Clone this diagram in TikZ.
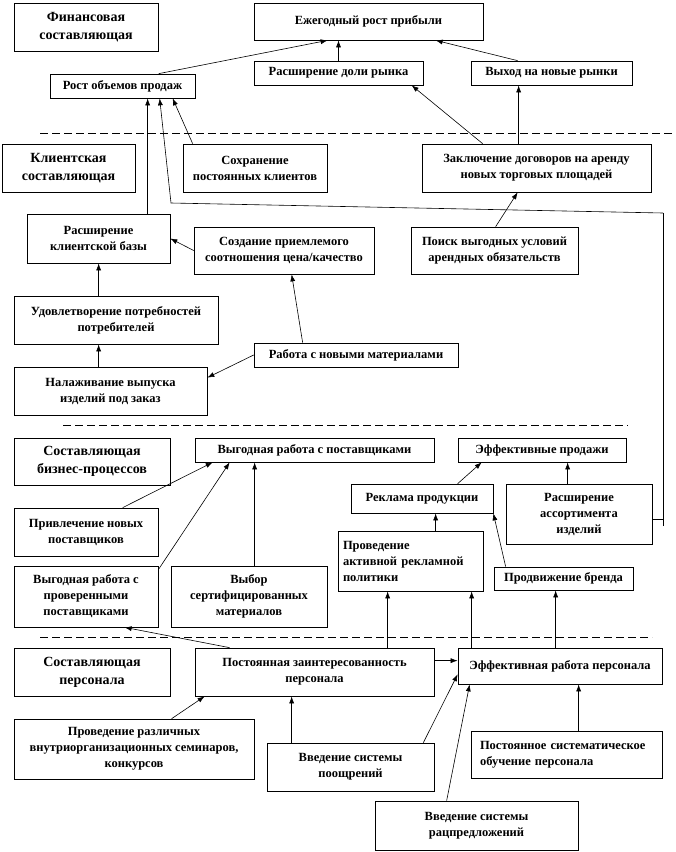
\documentclass[tikz,border=0pt]{standalone}
\usepackage{fontspec}
\setmainfont{Liberation Serif}
\usetikzlibrary{arrows.meta,calc}
\begin{document}
\begin{tikzpicture}[x=1pt,y=-1pt,
 box/.style={draw,line width=0.7pt,inner sep=0pt,align=center,font=\fontsize{12.5}{16}\selectfont\bfseries},
 ttl/.style={box,font=\fontsize{14}{18}\selectfont\bfseries},
 lbox/.style={box,align=left},
 arr/.style={line width=0.6pt,-{Latex[length=7pt,width=5pt]}},
 ln/.style={line width=0.6pt},
 sepline/.style={line width=0.7pt,dash pattern=on 8pt off 4pt}]
\fill[white] (0,0) rectangle (676,852);
\useasboundingbox (0,0) rectangle (676,852);

% Financial
\node[ttl,minimum width=144pt,minimum height=48pt] (fin) at (86,27) {Финансовая\\составляющая};
\node[box,minimum width=229pt,minimum height=37pt] (ezh) at (368.5,21.5) {Ежегодный рост прибыли};
\node[box,minimum width=145pt,minimum height=24pt] (rost) at (122.5,86) {Рост объемов продаж};
\node[box,minimum width=169pt,minimum height=24pt] (dolya) at (338.5,73) {Расширение доли рынка};
\node[box,minimum width=161pt,minimum height=24pt] (vyhod) at (551.5,73) {Выход на новые рынки};

\coordinate (d1a) at (40,133); \coordinate (d1b) at (673,133);
\draw[sepline] (d1a) -- (d1b);

% Client
\node[ttl,minimum width=133pt,minimum height=48pt] (klient) at (68.5,168) {Клиентская\\составляющая};
\node[box,minimum width=144pt,minimum height=48pt] (sohr) at (255,168) {Сохранение\\постоянных клиентов};
\node[box,minimum width=229pt,minimum height=48pt] (zakl) at (536.5,168) {Заключение договоров на аренду\\новых торговых площадей};
\node[box,minimum width=143pt,minimum height=49pt] (rasshkl) at (98.5,238.5) {Расширение\\клиентской базы};
\node[box,minimum width=180pt,minimum height=47pt] (sozd) at (284,250.5) {Создание приемлемого\\соотношения цена/качество};
\node[box,minimum width=167pt,minimum height=47pt] (poisk) at (494.5,250.5) {Поиск выгодных условий\\арендных обязательств};
\node[box,minimum width=204pt,minimum height=48pt] (udovl) at (116,320) {Удовлетворение потребностей\\потребителей};
\node[box,minimum width=204pt,minimum height=24pt] (rabota) at (356,355) {Работа с новыми материалами};
\node[box,minimum width=193pt,minimum height=48pt] (nalazh) at (110.5,391) {Налаживание выпуска\\изделий под заказ};

\coordinate (d2a) at (63,425); \coordinate (d2b) at (628,425);
\draw[sepline] (d2a) -- (d2b);

% Business processes
\node[ttl,minimum width=156pt,minimum height=47pt] (biz) at (92,461.5) {Составляющая\\бизнес-процессов};
\node[box,minimum width=239pt,minimum height=24pt] (vygod) at (314.5,450) {Выгодная работа с поставщиками};
\node[box,minimum width=168pt,minimum height=24pt] (effprod) at (542,450) {Эффективные продажи};
\node[box,minimum width=142pt,minimum height=29pt] (reklama) at (422,498.5) {Реклама продукции};
\node[box,minimum width=146pt,minimum height=60pt] (assort) at (579,514) {Расширение\\ассортимента\\изделий};
\node[box,minimum width=144pt,minimum height=48pt] (privl) at (86,532) {Привлечение новых\\поставщиков};
\node[lbox,minimum width=145pt,minimum height=60pt,text width=135pt] (provact) at (410.5,561) {Проведение\\активной рекламной\\политики};
\node[box,minimum width=139pt,minimum height=23pt] (brend) at (563.5,578.5) {Продвижение бренда};
\node[box,minimum width=144pt,minimum height=61pt] (vygprov) at (86,596.5) {Выгодная работа с\\проверенными\\поставщиками};
\node[box,minimum width=156pt,minimum height=61pt] (vybor) at (249,596.5) {Выбор\\сертифицированных\\материалов};

\coordinate (d3a) at (40,637); \coordinate (d3b) at (652,637);
\draw[sepline] (d3a) -- (d3b);

% Personnel
\node[ttl,minimum width=156pt,minimum height=48pt] (pers) at (92,672) {Составляющая\\персонала};
\node[box,minimum width=239pt,minimum height=48pt] (postz) at (314.5,672) {Постоянная заинтересованность\\персонала};
\node[box,minimum width=204pt,minimum height=36pt] (effrab) at (560,666) {Эффективная работа персонала};
\node[box,minimum width=240pt,minimum height=60pt] (provsem) at (134,749) {Проведение различных\\внутриорганизационных семинаров,\\конкурсов};
\node[box,minimum width=167pt,minimum height=48pt] (poosh) at (350.5,767) {Введение системы\\поощрений};
\node[lbox,minimum width=191pt,minimum height=47pt,text width=173pt] (obuch) at (566.5,754.5) {Постоянное систематическое\\обучение персонала};
\node[box,minimum width=203pt,minimum height=49pt] (racpr) at (476.5,825.5) {Введение системы\\рацпредложений};

% Connectors: financial
\draw[arr] ([xshift=109pt]rost.north west) -- ([xshift=74pt]ezh.south west);
\draw[arr] (dolya.north) -- (dolya.north |- ezh.south);
\draw[arr] ([xshift=47pt]vyhod.north west) -- ([xshift=182pt]ezh.south west);
\draw[arr] ([xshift=61pt]zakl.north west) -- ([xshift=158pt]dolya.south west);
\draw[arr] ([xshift=97pt]zakl.north west) -- ([xshift=97pt]zakl.north west |- vyhod.south);
\draw[arr] ([xshift=85pt]poisk.north west) -- ([xshift=96pt]zakl.south west);
\draw[arr] ([xshift=121pt]rasshkl.north west) -- ([xshift=121pt]rasshkl.north west |- rost.south);
\draw[arr] ([xshift=10pt]sohr.north west) -- ([xshift=123pt]rost.south west);

% long line from assortment to sales growth
\coordinate (k0) at (663,526);
\coordinate (k1) at (663,213);
\coordinate (k2) at (171,203);
\draw[ln] (k0) -- (k1);
\draw[ln] ([yshift=-5pt]assort.east) -- ([yshift=-5pt]assort.east -| k0);
\draw[arr] (k1) -- (k2) -- ([xshift=110pt]rost.south west);

% client
\draw[arr] (sozd.west) -- (rasshkl.east);
\draw[arr] ([xshift=85pt]udovl.north west) -- ([xshift=85pt]udovl.north west |- rasshkl.south);
\draw[arr] ([xshift=85pt]nalazh.north west) -- ([xshift=85pt]nalazh.north west |- udovl.south);
\draw[arr] ([xshift=49pt]rabota.north west) -- ([xshift=98pt]sozd.south west);
\draw[arr] (rabota.west) -- ([yshift=-11pt]nalazh.north east);

% business processes
\draw[arr] ([xshift=109pt]privl.north west) -- ([xshift=18pt]vygod.south west);
\draw[arr] ([yshift=-4pt]vygprov.north east) -- ([xshift=35pt]vygod.south west);
\draw[arr] ([xshift=84pt]vybor.north west) -- ([xshift=84pt]vybor.north west |- vygod.south);
\draw[arr] ([xshift=107pt]reklama.north west) -- ([xshift=24pt]effprod.south west);
\draw[arr] ([xshift=62pt]assort.north west) -- ([xshift=62pt]assort.north west |- effprod.south);
\draw[arr] ([xshift=98pt]provact.north west) -- ([xshift=98pt]provact.north west |- reklama.south);
\draw[arr] ([xshift=12pt]brend.north west) -- (reklama.south east);

% personnel
\draw[arr] ([xshift=35pt]postz.north west) -- ([xshift=111pt]vygprov.south west);
\draw[arr] ([xshift=193pt]postz.north west) -- ([xshift=193pt]postz.north west |- provact.south);
\draw[arr] ([xshift=14pt]effrab.north west) -- ([xshift=14pt]effrab.north west |- provact.south);
\draw[arr] ([xshift=98pt]effrab.north west) -- ([xshift=98pt]effrab.north west |- brend.south);
\draw[arr] ([yshift=-13pt]postz.north east) -- ([yshift=-13pt]postz.north east -| effrab.west);
\draw[arr] ([xshift=158pt]provsem.north west) -- ([xshift=10pt]postz.south west);
\draw[arr] ([xshift=25pt]poosh.north west) -- ([xshift=25pt]poosh.north west |- postz.south);
\draw[arr] ([xshift=-11pt]poosh.north east) -- ([yshift=10pt]effrab.south west);
\draw[arr] ([xshift=108pt]obuch.north west) -- ([xshift=108pt]obuch.north west |- effrab.south);
\draw[arr] ([xshift=72pt]racpr.north west) -- ([xshift=12pt]effrab.south west);
\end{tikzpicture}
\end{document}
